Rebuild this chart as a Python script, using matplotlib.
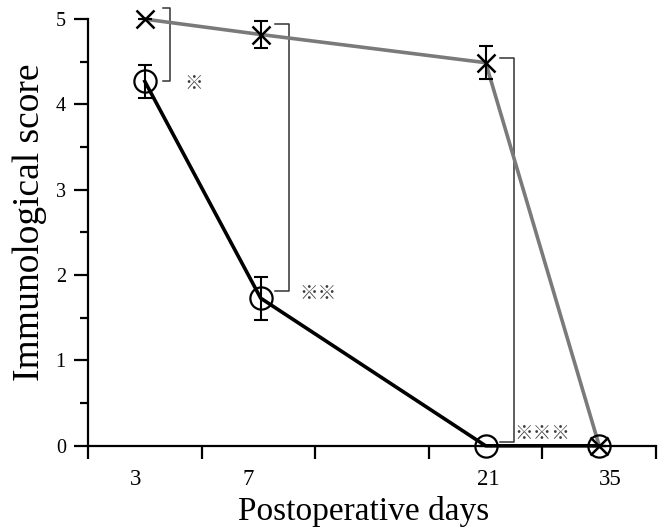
import numpy as np
import matplotlib
matplotlib.use("Agg")
import matplotlib.pyplot as plt

# data
days = ["3", "7", "21", "35"]
score_black = [4.27, 1.73, 0.0, 0.0]
err_black = [0.19, 0.25, 0.0, 0.0]
score_gray = [5.0, 4.82, 4.49, 0.0]
err_gray = [0.0, 0.16, 0.19, 0.0]

# x layout (axis runs 0..5, days are not spaced linearly)
x_pos = np.array([0.5, 1.52, 3.5, 4.5])
label_pos = [0.42, 1.41, 3.52, 4.6]

plt.rcParams['font.family'] = ['Liberation Serif', 'DejaVu Serif']

fig = plt.figure(figsize=(6.62, 5.32), dpi=100)
ax = fig.add_axes([0.133, 0.162, 0.858, 0.802])

# gray series (crosses)
ax.plot(x_pos, score_gray, color='#7a7a7a', lw=2.6, zorder=2, clip_on=False)
ax.errorbar(x_pos, score_gray, yerr=err_gray, fmt='none', ecolor='black',
            elinewidth=1.5, capsize=5, capthick=1.5, zorder=4, clip_on=False)
ax.plot(x_pos, score_gray, ls='none', marker='x', ms=13, mew=1.8,
        color='black', zorder=5, clip_on=False)

# black series (open circles)
ax.plot(x_pos, score_black, color='black', lw=2.6, zorder=3, clip_on=False)
ax.errorbar(x_pos, score_black, yerr=err_black, fmt='none', ecolor='black',
            elinewidth=1.5, capsize=5, capthick=1.5, zorder=4, clip_on=False)
ax.plot(x_pos, score_black, ls='none', marker='o', ms=16, mew=1.6,
        mfc='none', mec='black', zorder=5, clip_on=False)

# significance brackets
brackets = [(0.66, 0.72, 4.27, 5.13), (1.65, 1.77, 1.82, 4.94), (3.63, 3.75, 0.05, 4.55)]
for x0, x1, y0, y1 in brackets:
    ax.plot([x0, x1, x1, x0], [y1, y1, y0, y0], color='#333333', lw=1.1,
            zorder=1, clip_on=False)

marks = [(0.93, 4.25, '※'), (2.02, 1.79, '※※'), (4.0, 0.15, '※※※')]
for xm, ym, s in marks:
    ax.text(xm, ym, s, fontsize=13.5, color='#3c3c3c', ha='center', va='center',
            family=['Noto Sans CJK JP', 'DejaVu Sans'])

ax.set_xlim(0, 5)
ax.set_ylim(0, 5)
ax.spines['top'].set_visible(False)
ax.spines['right'].set_visible(False)
ax.spines['left'].set_linewidth(1.6)
ax.spines['bottom'].set_linewidth(1.6)

ax.set_xticks(np.arange(0, 6))
ax.set_xticklabels([])
ax.set_xticks(label_pos, minor=True)
ax.set_xticklabels(days, minor=True, fontsize=16.5)
ax.tick_params(axis='x', which='major', direction='out', length=9, width=1.6)
ax.tick_params(axis='x', which='minor', length=0, pad=17)

ax.set_yticks(np.arange(0, 6))
ax.set_yticks(np.arange(0.5, 5, 1), minor=True)
ax.tick_params(axis='y', which='major', direction='out', length=10, width=1.6,
               labelsize=14.5, pad=6)
ax.tick_params(axis='y', which='minor', direction='out', length=6, width=1.6)

ax.set_xlabel('Postoperative days', fontsize=24, labelpad=4, x=0.486)
ax.set_ylabel('Immunological score', fontsize=27, labelpad=6, y=0.525)

fig.savefig('out.png', dpi=100)
